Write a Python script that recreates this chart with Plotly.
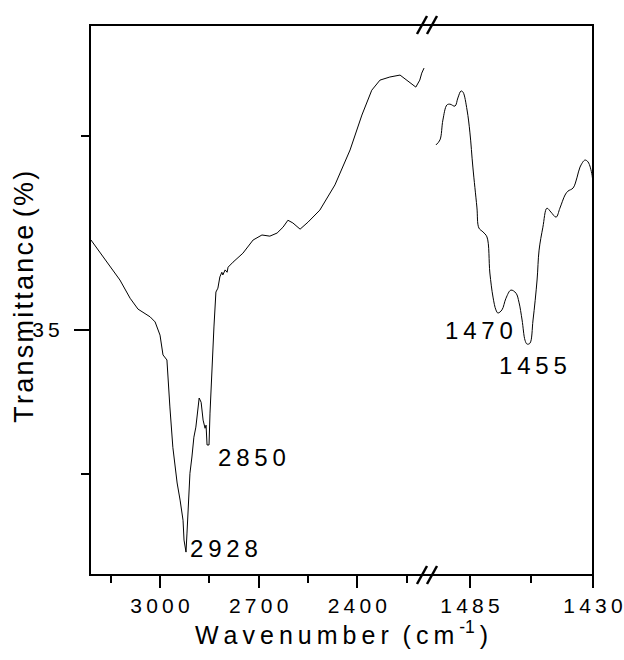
import plotly.graph_objects as go

# ---- data ----
# C-H stretching region (left panel)
wn_high = [3210, 3173, 3122, 3091, 3067, 3030, 3015, 3000, 2991, 2979, 2976, 2970,
           2961, 2948, 2939, 2930, 2927, 2921, 2918, 2909, 2903, 2897, 2891, 2881,
           2875, 2869, 2863, 2860, 2857, 2851, 2848, 2842, 2836, 2830, 2824, 2818,
           2812, 2809, 2802, 2796, 2793, 2778, 2748, 2717, 2690, 2666, 2644, 2626,
           2611, 2596, 2574, 2550, 2514, 2468, 2422, 2386, 2356, 2331, 2301, 2270,
           2249, 2231, 2222, 2210, 2204, 2197]
t_high = [37.32, 36.88, 36.29, 35.82, 35.54, 35.34, 35.21, 34.87, 34.36, 34.23, 33.71, 33.02,
          31.98, 31.06, 30.62, 30.10, 29.59, 29.28, 29.77, 31.31, 31.73, 32.24, 32.50, 33.25,
          33.14, 32.68, 32.47, 32.55, 32.04, 32.04, 32.86, 34.23, 35.08, 35.98, 36.08, 36.37,
          36.49, 36.42, 36.55, 36.49, 36.62, 36.75, 36.98, 37.32, 37.45, 37.42, 37.50, 37.65,
          37.83, 37.76, 37.60, 37.78, 38.09, 38.74, 39.64, 40.54, 41.18, 41.44, 41.52, 41.57,
          41.44, 41.31, 41.26, 41.44, 41.62, 41.75]

# C-H bending region (right panel)
wn_low = [1500.2, 1498.4, 1497.1, 1495.3, 1493.9, 1491.7, 1490.4, 1489.0, 1488.1, 1486.3,
          1485.0, 1483.7, 1481.9, 1481.0, 1479.2, 1477.4, 1476.1, 1474.7, 1473.4, 1472.5,
          1470.7, 1468.9, 1466.7, 1464.4, 1463.1, 1461.7, 1460.4, 1459.5, 1458.2, 1456.8,
          1455.0, 1454.1, 1452.4, 1450.6, 1448.8, 1446.5, 1444.8, 1442.5, 1441.2, 1438.9,
          1437.1, 1435.8, 1433.6, 1432.2, 1430.4, 1430.0]
t_low = [39.77, 39.90, 40.41, 40.80, 40.82, 40.77, 40.98, 41.16, 41.13, 40.67,
         40.08, 39.20, 38.17, 37.63, 37.53, 37.40, 36.47, 35.85, 35.52, 35.44,
         35.52, 35.82, 36.03, 35.95, 35.72, 35.26, 34.74, 34.64, 34.66, 35.26,
         36.29, 37.06, 37.65, 38.14, 38.04, 37.91, 38.14, 38.48, 38.58, 38.66,
         38.94, 39.20, 39.38, 39.33, 38.99, 38.69]

x1_ticks = [3000, 2700, 2400]
x1_minor = [3150, 2850, 2550, 2250]
x2_ticks = [1485, 1430]
x2_minor = [1457.5]
y_ticks = [35]
y_minor = [40.0, 31.29]

peak_labels = ["2928", "2850", "1470", "1455"]
peak_x = [2915, 2830, 1497.1, 1472.9]
peak_y = [29.36, 31.73, 35.0, 34.1]
peak_axis = ["x", "x", "x2", "x2"]

X1_RANGE = [3213, 2188]
X2_RANGE = [1504.2, 1430]
Y_RANGE = [28.69, 42.86]

TS = "\u2009"  # thin space used for the wide letter spacing of the original
HS = "\u200a"  # hair space


def spaced(s, sep=TS):
    return sep.join(s)


FONT = "Arial, Liberation Sans, sans-serif"
SPLIT = (427 - 90) / 503.0

fig = go.Figure()
fig.add_trace(go.Scatter(x=wn_high, y=t_high, mode="lines", xaxis="x", yaxis="y",
                         line=dict(color="black", width=1), showlegend=False,
                         hoverinfo="skip"))
fig.add_trace(go.Scatter(x=wn_low, y=t_low, mode="lines", xaxis="x2", yaxis="y",
                         line=dict(color="black", width=1), showlegend=False,
                         line_shape="spline", hoverinfo="skip"))

common_x = dict(showgrid=False, zeroline=False, showline=False, ticks="outside",
                ticklen=12, tickwidth=2, tickcolor="black", automargin=False,
                tickfont=dict(family=FONT, size=21, color="black"),
                tickmode="array", anchor="y")

fig.update_layout(
    width=624, height=660,
    margin=dict(l=90, r=31, t=25, b=85, autoexpand=False),
    paper_bgcolor="white", plot_bgcolor="white",
    xaxis=dict(domain=[0, SPLIT], range=X1_RANGE, tickvals=x1_ticks,
               ticktext=[spaced(str(v)) for v in x1_ticks],
               minor=dict(tickmode="array", tickvals=x1_minor, ticks="outside",
                          ticklen=7, tickwidth=2, tickcolor="black"),
               **common_x),
    xaxis2=dict(domain=[SPLIT, 1], range=X2_RANGE, tickvals=x2_ticks,
                ticktext=[spaced(str(v)) for v in x2_ticks],
                minor=dict(tickmode="array", tickvals=x2_minor, ticks="outside",
                           ticklen=7, tickwidth=2, tickcolor="black"),
                **common_x),
    yaxis=dict(range=Y_RANGE, showgrid=False, zeroline=False, showline=False,
               automargin=False,
               ticks="outside", ticklen=15, tickwidth=2, tickcolor="black",
               tickmode="array", tickvals=y_ticks,
               ticktext=[spaced(str(v)) for v in y_ticks],
               tickfont=dict(family=FONT, size=21, color="black"),
               ticklabelstandoff=10,
               minor=dict(tickmode="array", tickvals=y_minor, ticks="outside",
                          ticklen=8, tickwidth=2, tickcolor="black")),
)

# frame and axis-break marks
shapes = [dict(type="rect", xref="paper", yref="paper", x0=0, x1=1, y0=0, y1=1,
               line=dict(color="black", width=2), layer="above")]
for yp in (0, 1):
    for dx in (-5, 5):
        shapes.append(dict(type="line", xref="paper", yref="paper",
                           x0=SPLIT + (dx - 5) / 503.0, x1=SPLIT + (dx + 5) / 503.0,
                           y0=yp - 9 / 550.0, y1=yp + 9 / 550.0,
                           line=dict(color="black", width=2.5)))
fig.update_layout(shapes=shapes)

annotations = []
for lab, px, py, ax in zip(peak_labels, peak_x, peak_y, peak_axis):
    annotations.append(dict(x=px, y=py, xref=ax, yref="y", text=spaced(lab),
                            showarrow=False, xanchor="left", yanchor="middle",
                            font=dict(family=FONT, size=24, color="black")))
annotations.append(dict(x=0.5, y=-0.105, xref="paper", yref="paper",
                        text=spaced("Wavenumber") + "\u00a0\u00a0" + spaced("(cm") + TS +
                        "<sup>-1</sup>" + TS + ")",
                        showarrow=False, xanchor="center", yanchor="middle",
                        font=dict(family=FONT, size=25, color="black")))
annotations.append(dict(x=-0.13, y=0.505, xref="paper", yref="paper",
                        text=spaced("Transmittance", HS) + "\u00a0" + spaced("(%)", HS),
                        textangle=-90,
                        showarrow=False, xanchor="center", yanchor="middle",
                        font=dict(family=FONT, size=27, color="black")))
fig.update_layout(annotations=annotations)

fig.write_html("out.html",
               config={"displayModeBar": False, "staticPlot": True},
               post_script="document.body.style.margin='0';"
                           "document.body.style.overflow='hidden';")
